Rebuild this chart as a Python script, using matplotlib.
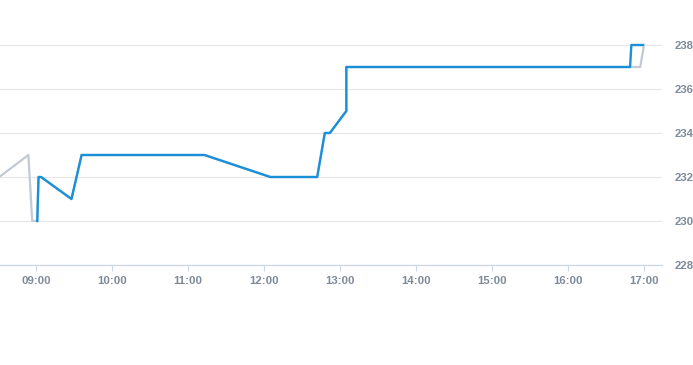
import pandas as pd
import matplotlib.pyplot as plt
import matplotlib.dates as mdates

# intraday price, today (blue) and reference (gray)
today_times = ['09:01', '09:02', '09:04', '09:28', '09:36', '11:13', '12:05',
               '12:42', '12:48', '12:52', '13:05', '13:05', '16:49', '16:50', '16:59']
today_prices = [230, 232, 232, 231, 233, 233, 232, 232, 234, 234, 235, 237, 237, 238, 238]

ref_times = ['08:31', '08:54', '08:57', '08:59', '09:01', '09:02', '09:04', '09:28',
             '09:36', '11:13', '12:05', '12:42', '12:48', '12:52', '13:05', '13:05',
             '16:57', '17:00']
ref_prices = [232, 233, 230, 230, 230, 232, 232, 231, 233, 233, 232, 232, 234, 234,
              235, 237, 237, 238]

hour_ticks = ['09:00', '10:00', '11:00', '12:00', '13:00', '14:00', '15:00', '16:00', '17:00']
price_ticks = [228, 230, 232, 234, 236, 238]


def to_dt(times):
    return pd.to_datetime(['2024-01-02 ' + t for t in times])


plt.rcParams['font.family'] = ['Liberation Sans', 'DejaVu Sans']

fig = plt.figure(figsize=(6.93, 3.65), dpi=100)
ax = fig.add_axes([0, 1 - 265 / 365, 662 / 693, 265 / 365])

label_col = '#7d8a99'
ax.plot(to_dt(ref_times), ref_prices, color='#c3cad3', lw=1.6, zorder=2)
ax.plot(to_dt(today_times), today_prices, color='#1a90d9', lw=1.7, zorder=3)

ax.set_xlim(pd.Timestamp('2024-01-02 08:31:35'), pd.Timestamp('2024-01-02 17:14:12'))
ax.set_ylim(228, 228 + 265 / 22)

ax.set_xticks(to_dt(hour_ticks))
ax.xaxis.set_major_formatter(mdates.DateFormatter('%H:%M'))
ax.set_yticks(price_ticks)

ax.yaxis.tick_right()
ax.grid(axis='y', color='#e6e6e6', lw=0.8)
ax.set_axisbelow(True)
for s in ['top', 'left', 'right']:
    ax.spines[s].set_visible(False)
ax.spines['bottom'].set_color('#ccd6eb')
ax.spines['bottom'].set_linewidth(0.9)

ax.tick_params(axis='x', length=4, color='#ccd6eb', width=0.8, pad=4,
               labelsize=8.2, labelcolor=label_col)
ax.tick_params(axis='y', length=0, pad=9, labelsize=8.2, labelcolor=label_col)
for lab in ax.get_xticklabels() + ax.get_yticklabels():
    lab.set_fontweight('bold')

fig.savefig('out.png', dpi=100)
